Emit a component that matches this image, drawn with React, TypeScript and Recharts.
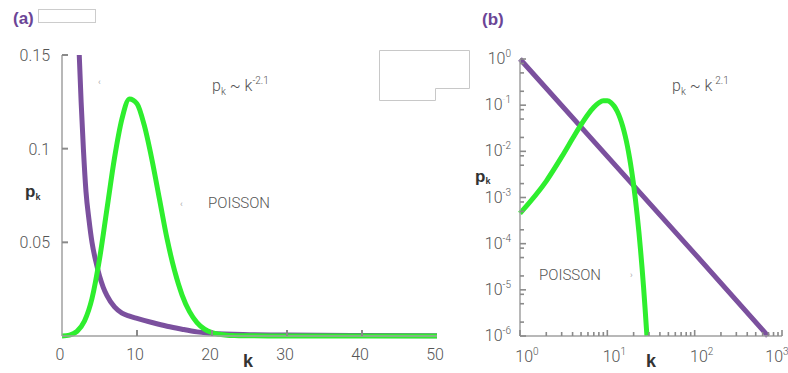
import React from 'react';
import { LineChart, Line, XAxis, YAxis } from 'recharts';

// ---------- Panel (a): linear axes ----------
const aKTicks = [0, 10, 20, 30, 40, 50];
const aPTicks = [0, 0.05, 0.1, 0.15];
const aPTickLabels = ['', '0.05', '0.1', '0.15'];

const aPowerK = [2.3, 2.55, 2.85, 3.2, 3.6, 4.0, 4.5, 5.0, 5.5, 6.0, 7.0, 8.0, 9.0, 10, 12, 14, 16, 18, 20, 25, 30, 40, 50];
const aPowerP = [0.15, 0.125, 0.1, 0.077, 0.062, 0.05, 0.04, 0.032, 0.026, 0.0215, 0.0155, 0.0122, 0.0106, 0.0094, 0.0072, 0.0052, 0.0036, 0.0022, 0.0013, 0.0007, 0.0005, 0.0003, 0.0002];

const aPoissonK = [0, 1, 2, 3, 4, 5, 6, 7, 8, 9, 10, 11, 12, 13, 14, 15, 16, 17, 18, 19, 20, 21, 22, 23, 24, 25, 30, 40, 50];
const aPoissonP = [0, 0.0005, 0.0025, 0.008, 0.02, 0.041, 0.068, 0.095, 0.116, 0.1265, 0.124, 0.112, 0.094, 0.073, 0.052, 0.035, 0.022, 0.013, 0.0072, 0.0037, 0.0018, 0.0009, 0.0004, 0.0002, 0.0001, 0.0001, 0, 0, 0];

// ---------- Panel (b): log-log axes ----------
const bKMajor = [1, 10, 100, 1000];
const bKMajorLabels = ['0', '1', '2', '3'];
const bKMinor = [2, 3, 4, 5, 6, 7, 8, 9, 20, 30, 40, 50, 60, 70, 80, 90, 200, 300, 400, 500, 600, 700, 800, 900];
const bPMajor = [1, 0.1, 0.01, 0.001, 0.0001, 0.00001, 0.000001];
const bPMajorLabels = ['0', '-1', '-2', '-3', '-4', '-5', '-6'];
const bPMinor = [0.8, 0.5, 0.2, 0.08, 0.05, 0.02, 0.008, 0.005, 0.002, 0.0008, 0.0005, 0.0002, 0.00008, 0.00005, 0.00002, 0.000008, 0.000005, 0.000002];

const bPowerK = [1, 10, 100, 690];
const bPowerP = [1, 0.0078, 0.000061, 0.000001];

const bPoissonK = [1, 2, 3, 4, 5, 6, 7, 8, 9, 10, 11, 12, 13, 14, 15, 16, 17, 18, 19, 20, 21, 22, 23, 24, 25, 26, 27, 28, 28.4];
const bPoissonP = [0.000454, 0.00227, 0.00757, 0.0189, 0.0378, 0.0631, 0.0901, 0.1126, 0.1251, 0.1251, 0.1137, 0.0948, 0.0729, 0.0521, 0.0347, 0.0217, 0.0128, 0.00709, 0.00373, 0.00187, 0.000889, 0.000404, 0.000176, 0.0000732, 0.0000293, 0.0000113, 0.00000417, 0.00000149, 0.000001];

const zip = (ks: number[], ps: number[]) => ks.map((k, i) => ({ k, p: ps[i] }));
const aPowerData = zip(aPowerK, aPowerP);
const aPoissonData = zip(aPoissonK, aPoissonP);
const bPowerData = zip(bPowerK, bPowerP);
const bPoissonData = zip(bPoissonK, bPoissonP);

const PURPLE = '#7b509e';
const GREEN = '#2eee2e';
const TICK = '#8a8a8a';
const AXIS = '#a0a0a0';
const LABEL = '#555555';
const FONT = 'Roboto, "Liberation Sans", sans-serif';
const BOLD = '"Liberation Sans", Arial, sans-serif';

const labelProps = { fill: LABEL, fontSize: 16, fontFamily: FONT, fontWeight: 300 } as const;

// ----- panel (a) tick renderers -----
const aBottomTick = (props: any) => {
  const { x, y, payload } = props;
  const v = payload.value;
  return (
    <g>
      {v > 0 && v < 50 && <line x1={x} x2={x} y1={y} y2={y - 6} stroke={TICK} strokeWidth={2} />}
      <text x={x - 2} y={y + 24} textAnchor="middle" {...labelProps}>{String(v)}</text>
    </g>
  );
};
const aTopTick = (props: any) => {
  const { x, y, payload } = props;
  const v = payload.value;
  return v > 0 ? <line x1={x} x2={x} y1={y} y2={y + 6} stroke={TICK} strokeWidth={2} /> : <g />;
};
const aLeftTick = (props: any) => {
  const { x, y, payload } = props;
  const v = payload.value;
  const i = aPTicks.indexOf(v);
  return (
    <g>
      {v > 0 && <line x1={x} x2={x + 6} y1={y} y2={y} stroke={TICK} strokeWidth={2} />}
      <text x={x - 12} y={y + 6} textAnchor="end" {...labelProps}>{i >= 0 ? aPTickLabels[i] : ''}</text>
    </g>
  );
};
const aRightTick = (props: any) => {
  const { x, y, payload } = props;
  const v = payload.value;
  return v > 0 && v < 0.15 ? <line x1={x} x2={x - 6} y1={y} y2={y} stroke={TICK} strokeWidth={2} /> : <g />;
};

// ----- panel (b) tick renderers -----
const expTspan = (e: string) =>
  e.startsWith('-') ? (
    <tspan dy={-7} fontSize={10}>
      <tspan fill={e === '-1' ? '#dddddd' : LABEL}>-</tspan>
      {e.slice(1)}
    </tspan>
  ) : (
    <tspan dy={-7} fontSize={10}>{e}</tspan>
  );

const bBottomTick = (props: any) => {
  const { x, y, payload } = props;
  const v = payload.value;
  const i = bKMajor.indexOf(v);
  const len = i >= 0 ? 6 : 4;
  return (
    <g>
      <line x1={x} x2={x} y1={y} y2={y - len} stroke={TICK} strokeWidth={1.6} />
      {i >= 0 && (
        <text x={x + (v === 1000 ? -5 : 7)} y={y + 26} textAnchor="middle" {...labelProps}>
          10{expTspan(bKMajorLabels[i])}
        </text>
      )}
    </g>
  );
};
const bTopTick = (props: any) => {
  const { x, y, payload } = props;
  const len = bKMajor.indexOf(payload.value) >= 0 ? 6 : 4;
  return <line x1={x} x2={x} y1={y} y2={y + len} stroke={TICK} strokeWidth={1.6} />;
};
const bLeftTick = (props: any) => {
  const { x, y, payload } = props;
  const v = payload.value;
  const i = bPMajor.indexOf(v);
  const len = i >= 0 ? 6 : 4;
  return (
    <g>
      <line x1={x} x2={x + len} y1={y} y2={y} stroke={TICK} strokeWidth={1.6} />
      {i >= 0 && (
        <text x={x - 9} y={y + 5} textAnchor="end" {...labelProps}>
          10{expTspan(bPMajorLabels[i])}
        </text>
      )}
    </g>
  );
};
const bRightTick = (props: any) => {
  const { x, y, payload } = props;
  const len = bPMajor.indexOf(payload.value) >= 0 ? 6 : 4;
  return <line x1={x} x2={x - len} y1={y} y2={y} stroke={TICK} strokeWidth={1.6} />;
};

const axisLine = { stroke: AXIS, strokeWidth: 1.5 };

export default function App() {
  const bKTicks = bKMajor.concat(bKMinor);
  const bPTicks = bPMajor.concat(bPMinor);
  return (
    <div style={{ position: 'absolute', left: 0, top: 0, width: 788, height: 373, background: '#ffffff', overflow: 'hidden' }}>
      <div style={{ position: 'absolute', left: 0, top: 0 }}>
        <LineChart width={460} height={373} margin={{ top: 55, right: 23, bottom: 0, left: 12 }}>
          <XAxis xAxisId="b" orientation="bottom" dataKey="k" type="number" domain={[0, 50]} ticks={aKTicks} interval={0}
            height={37} tickSize={0} tickMargin={0} tickLine={false} axisLine={axisLine} tick={aBottomTick} />
          <XAxis xAxisId="t" orientation="top" dataKey="k" type="number" domain={[0, 50]} ticks={aKTicks} interval={0}
            height={0} tickSize={0} tickMargin={0} tickLine={false} axisLine={axisLine} tick={aTopTick} />
          <YAxis yAxisId="l" orientation="left" type="number" domain={[0, 0.15]} ticks={aPTicks} interval={0}
            width={50} tickSize={0} tickMargin={0} tickLine={false} axisLine={axisLine} tick={aLeftTick} />
          <YAxis yAxisId="r" orientation="right" type="number" domain={[0, 0.15]} ticks={aPTicks} interval={0}
            width={0} tickSize={0} tickMargin={0} tickLine={false} axisLine={axisLine} tick={aRightTick} />
          <Line xAxisId="b" yAxisId="l" data={aPowerData} dataKey="p" type="monotone" stroke={PURPLE} strokeWidth={5}
            dot={false} isAnimationActive={false} />
          <Line xAxisId="b" yAxisId="l" data={aPoissonData} dataKey="p" type="monotone" stroke={GREEN} strokeWidth={5}
            dot={false} isAnimationActive={false} />
        </LineChart>
      </div>
      <div style={{ position: 'absolute', left: 460, top: 0 }}>
        <LineChart width={328} height={373} margin={{ top: 59, right: 6, bottom: 0, left: 10 }}>
          <XAxis xAxisId="b" orientation="bottom" dataKey="k" type="number" scale="log" domain={[1, 1000]} ticks={bKTicks} interval={0}
            height={37} tickSize={0} tickMargin={0} tickLine={false} axisLine={axisLine} tick={bBottomTick} />
          <XAxis xAxisId="t" orientation="top" dataKey="k" type="number" scale="log" domain={[1, 1000]} ticks={bKTicks} interval={0}
            height={0} tickSize={0} tickMargin={0} tickLine={false} axisLine={axisLine} tick={bTopTick} />
          <YAxis yAxisId="l" orientation="left" type="number" scale="log" domain={[0.000001, 1]} ticks={bPTicks} interval={0}
            width={50} tickSize={0} tickMargin={0} tickLine={false} axisLine={axisLine} tick={bLeftTick} />
          <YAxis yAxisId="r" orientation="right" type="number" scale="log" domain={[0.000001, 1]} ticks={bPTicks} interval={0}
            width={0} tickSize={0} tickMargin={0} tickLine={false} axisLine={axisLine} tick={bRightTick} />
          <Line xAxisId="b" yAxisId="l" data={bPowerData} dataKey="p" type="linear" stroke={PURPLE} strokeWidth={5}
            dot={false} isAnimationActive={false} />
          <Line xAxisId="b" yAxisId="l" data={bPoissonData} dataKey="p" type="monotone" stroke={GREEN} strokeWidth={5}
            dot={false} isAnimationActive={false} />
        </LineChart>
      </div>
      <svg width={788} height={373} style={{ position: 'absolute', left: 0, top: 0, pointerEvents: 'none' }}>
        {/* panel labels */}
        <text x={13} y={24} fill="#6b4596" fontSize={17} fontWeight="bold" fontFamily={BOLD}>(a)</text>
        <rect x={38.5} y={9.5} width={57} height={13} fill="none" stroke="#cccccc" strokeWidth={1} />
        <text x={482} y={25} fill="#6b4596" fontSize={17} fontWeight="bold" fontFamily={BOLD}>(b)</text>
        <path d="M379.5 50.5 H469.5 V88.5 H435.5 V100.5 H379.5 Z" fill="rgba(255,255,255,0.7)" stroke="#c8c8c8" strokeWidth={1} />

        {/* axis titles */}
        <text x={25} y={197} fill="#333333" fontSize={17} fontWeight="bold" fontFamily={BOLD}>
          p<tspan dy={3} fontSize={9}>k</tspan>
        </text>
        <text x={243} y={367} fill="#333333" fontSize={18} fontWeight="bold" fontFamily={BOLD}>k</text>
        <text x={475} y={182} fill="#333333" fontSize={17} fontWeight="bold" fontFamily={BOLD}>
          p<tspan dy={2} fontSize={9}>k</tspan>
        </text>
        <text x={646} y={367} fill="#333333" fontSize={18} fontWeight="bold" fontFamily={BOLD}>k</text>

        {/* annotations */}
        <text x={212} y={91} {...labelProps} fontSize={16}>
          p<tspan dy={4} fontSize={10}>k</tspan><tspan dy={-4}> ~ k</tspan><tspan dy={-7} fontSize={10}>-2.1</tspan>
        </text>
        <text x={672} y={91} {...labelProps} fontSize={16}>
          p<tspan dy={4} fontSize={10}>k</tspan><tspan dy={-4}> ~ k</tspan><tspan dy={-7} fontSize={10}><tspan fill="#dddddd">-</tspan>2.1</tspan>
        </text>
        <text x={208} y={208} {...labelProps} fontSize={15}>POISSON</text>
        <text x={539} y={280} {...labelProps} fontSize={15}>POISSON</text>
        <text x={98} y={85} fill="#aaaaaa" fontSize={9} fontFamily={FONT}>‹</text>
        <text x={180} y={207} fill="#aaaaaa" fontSize={9} fontFamily={FONT}>‹</text>
        <text x={630} y={278} fill="#aaaaaa" fontSize={9} fontFamily={FONT}>›</text>
      </svg>
    </div>
  );
}
